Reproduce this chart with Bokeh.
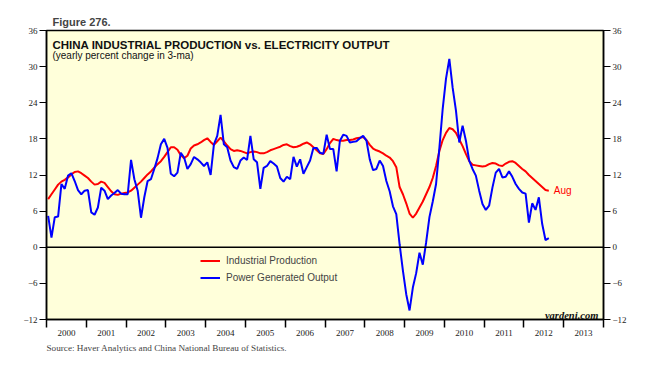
from bokeh.plotting import figure
from bokeh.models import (Range1d, LinearAxis, FixedTicker, Span, Label, Title,
                          Legend, LegendItem, ColumnDataSource)
from bokeh.embed import file_html
from bokeh.resources import INLINE
from bokeh.core.properties import value

# ---- data (monthly, Jan 2000 onward, yearly % change in 3-ma) ----
start_year = 2000
industrial_production = [
    8.0, 8.8, 9.6, 10.4, 10.9, 11.2, 11.6, 12.1, 12.5, 12.6, 12.3, 11.9,
    11.5, 10.9, 10.4, 10.5, 10.9, 10.7, 10.0, 9.3, 8.8, 8.7, 8.9, 9.0,
    9.1, 9.4, 9.9, 10.4, 10.9, 11.5, 12.1, 12.6, 13.2, 13.8, 14.3, 15.0,
    15.8, 16.6, 16.6, 16.2, 15.3, 14.8, 15.2, 16.4, 16.9, 17.1, 17.4, 17.8,
    18.1, 17.5, 17.0, 17.6, 18.2, 17.6, 16.9, 16.3, 16.0, 16.1, 16.0, 15.8,
    15.6, 15.8, 15.9, 15.8, 15.6, 15.6, 15.8, 16.1, 16.3, 16.5, 16.7, 17.0,
    17.1, 16.8, 16.6, 16.7, 16.9, 17.2, 17.4, 17.1, 16.6, 16.1, 15.6, 15.5,
    16.3, 17.3, 18.0, 17.8, 17.7, 17.7, 17.8, 17.8, 17.9, 18.1, 18.2, 18.3,
    17.8, 17.0, 16.4, 16.1, 15.9, 15.6, 15.2, 14.9, 14.3, 13.3, 10.0, 8.8,
    7.3, 5.6, 4.9, 5.6, 6.6, 7.6, 8.8, 10.0, 11.5, 13.5, 16.0, 17.8,
    19.0, 19.8, 19.6, 19.0, 17.9, 16.8, 15.5, 14.3, 13.7, 13.6, 13.5, 13.4,
    13.5, 13.8, 14.0, 13.9, 13.6, 13.5, 13.9, 14.2, 14.3, 14.0, 13.5, 13.0,
    12.6, 12.0, 11.5, 11.0, 10.5, 10.0, 9.5, 9.4,
]
power_output = [
    5.2, 1.6, 5.0, 5.1, 10.5, 9.7, 11.9, 12.3, 11.0, 9.5, 8.8, 9.4,
    9.5, 5.8, 5.4, 6.6, 9.9, 9.4, 8.0, 8.6, 9.0, 9.5, 8.9, 8.8,
    8.8, 14.5, 11.3, 9.4, 4.9, 8.3, 11.0, 11.3, 13.0, 14.8, 17.1, 18.0,
    16.5, 12.2, 11.8, 12.4, 15.7, 14.9, 13.0, 13.8, 15.0, 14.6, 14.1, 13.5,
    14.1, 12.0, 17.1, 18.5, 22.0, 17.1, 16.6, 14.4, 13.3, 13.0, 14.4, 14.9,
    14.5, 18.5, 14.6, 14.1, 9.7, 13.2, 13.5, 14.3, 13.9, 13.4, 11.5, 10.9,
    11.7, 11.3, 15.0, 13.4, 14.6, 12.2, 13.3, 14.4, 16.5, 16.5, 15.7, 15.5,
    18.7, 16.3, 16.3, 12.6, 17.7, 18.7, 18.5, 17.4, 17.5, 17.6, 18.1, 18.5,
    17.7, 14.6, 12.8, 13.0, 14.4, 13.5, 11.0, 9.3, 6.8, 5.5, 0.5, -3.9,
    -7.8, -10.5, -6.7, -4.3, -0.9, -2.9, 0.8, 5.0, 7.6, 10.5, 16.5, 23.0,
    28.0, 31.3, 26.5, 22.7, 17.4, 20.2, 17.7, 14.4, 13.0, 11.9, 9.4, 7.2,
    6.2, 6.9, 9.9, 12.4, 13.0, 11.6, 11.7, 12.6, 11.7, 10.5, 9.7, 9.1,
    8.9, 4.1, 7.3, 6.2, 8.3, 3.9, 1.2, 1.5,
]
years = [str(y) for y in range(2000, 2014)]
y_ticks = [-12, -6, 0, 6, 12, 18, 24, 30, 36]
last_label = "Aug"

x_ip = [start_year + (i + 0.5) / 12 for i in range(len(industrial_production))]
x_pw = [start_year + (i + 0.5) / 12 for i in range(len(power_output))]
src_ip = ColumnDataSource(dict(x=x_ip, y=industrial_production))
src_pw = ColumnDataSource(dict(x=x_pw, y=power_output))

SANS = "Liberation Sans"
SERIF = "Liberation Serif"

p = figure(width=640, height=364, output_backend="svg", toolbar_location=None,
           x_range=Range1d(2000, 2014), y_range=Range1d(-12, 36),
           min_border_left=46, min_border_right=37, min_border_top=30,
           min_border_bottom=45,
           background_fill_color="#FFFFDA", border_fill_color="white",
           outline_line_color="black", outline_line_width=1.5)
p.grid.visible = False

# title above
p.title.text = "Figure 276."
p.title.align = "left"
p.title.offset = 6
p.title.text_font = SANS
p.title.text_font_size = "11px"
p.title.text_font_style = "bold"
p.title.standoff = 6

# x axis: labels centred in years, ticks at year boundaries
xt = FixedTicker(ticks=[int(y) + 0.5 for y in years],
                 minor_ticks=[int(y) for y in years] + [int(years[-1]) + 1])
xa = p.xaxis[0]
xa.ticker = xt
xa.major_label_overrides = {int(y) + 0.5: y for y in years}
xa.major_tick_out = 0
xa.major_tick_in = 0
xa.minor_tick_out = 8
xa.minor_tick_in = 0
xa.minor_tick_line_width = 1.5
xa.axis_line_width = 1.5
xa.major_label_standoff = 2
xa.major_label_text_font = SERIF
xa.major_label_text_font_size = "9px"
xa.major_label_text_color = "#222222"

def style_y(ax):
    ax.ticker = FixedTicker(ticks=y_ticks)
    ax.major_tick_out = 7
    ax.major_tick_in = 0
    ax.minor_tick_out = 0
    ax.minor_tick_in = 0
    ax.axis_line_width = 1.5
    ax.major_tick_line_width = 1.2
    ax.major_label_standoff = 2
    ax.major_label_text_font = SERIF
    ax.major_label_text_font_size = "9px"
    ax.major_label_text_color = "#222222"

style_y(p.yaxis[0])
ry = LinearAxis()
style_y(ry)
p.add_layout(ry, "right")

# zero line
p.add_layout(Span(location=0, dimension="width", line_color="black", line_width=1.5))

r_ip = p.line("x", "y", source=src_ip, line_color="#FF0000", line_width=2)
r_pw = p.line("x", "y", source=src_pw, line_color="#0000FF", line_width=2)

# end label
p.text(x=[x_ip[-1]], y=[industrial_production[-1]], text=[last_label],
       x_offset=5, text_baseline="middle", text_align="left",
       text_font=value(SANS), text_font_size="10px", text_color="#FF0000")

# chart titles inside frame
p.add_layout(Label(x=2000.15, y=33.6, text="CHINA INDUSTRIAL PRODUCTION vs. ELECTRICITY OUTPUT",
                   text_font=SANS, text_font_size="11.5px", text_font_style="bold",
                   text_color="#111111", text_baseline="alphabetic"))
p.add_layout(Label(x=2000.15, y=31.8, text="(yearly percent change in 3-ma)",
                   text_font=SANS, text_font_size="10px", text_color="#111111",
                   text_baseline="alphabetic"))
p.add_layout(Label(x=2013.87, y=-11.3, text="yardeni.com", text_align="right",
                   text_font=SERIF, text_font_size="10.5px", text_font_style="bold italic",
                   text_color="#111111", text_baseline="alphabetic"))

legend = Legend(items=[LegendItem(label="Industrial Production", renderers=[r_ip]),
                       LegendItem(label="Power Generated Output", renderers=[r_pw])],
                location=(154, 33), padding=0, margin=0, spacing=0,
                glyph_width=20, glyph_height=17, label_height=17, label_standoff=6,
                label_text_font=SANS, label_text_font_size="10px",
                border_line_alpha=0, background_fill_alpha=0)
p.add_layout(legend)

p.add_layout(Title(text="Source: Haver Analytics and China National Bureau of Statistics.",
                   align="left", offset=0, text_font=SERIF, text_font_size="9.2px",
                   text_font_style="normal", standoff=5), "below")

open("out.html", "w").write(file_html(p, INLINE))
